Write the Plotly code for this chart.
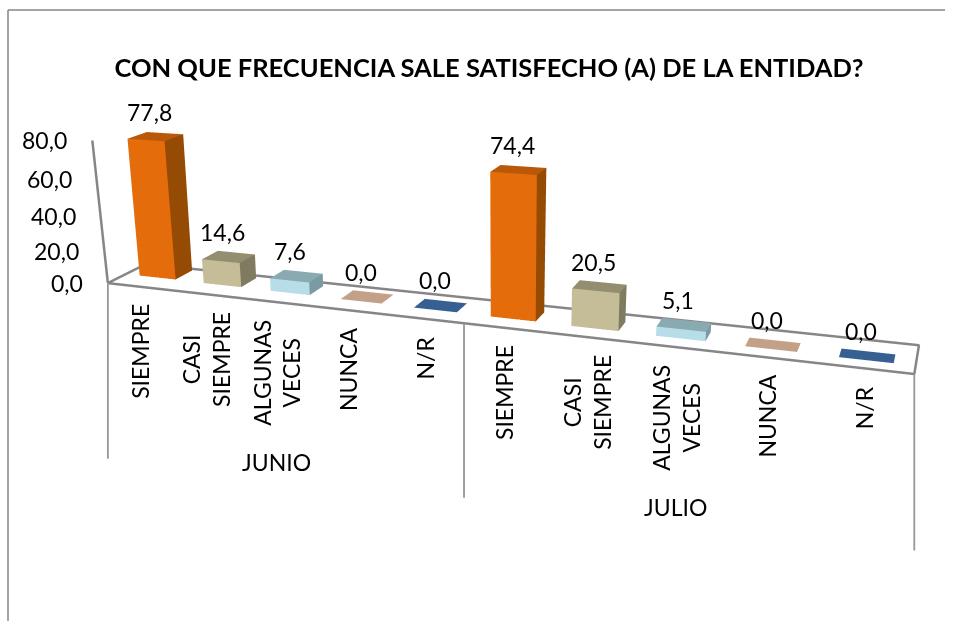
import plotly.graph_objects as go

categories = ["SIEMPRE", "CASI<br>SIEMPRE", "ALGUNAS<br>VECES", "NUNCA", "N/R"]
months = ["JUNIO", "JULIO"]
junio = [77.8, 14.6, 7.6, 0.0, 0.0]
julio = [74.4, 20.5, 5.1, 0.0, 0.0]
ticks = [0, 20, 40, 60, 80]
front = ["#E46C0A", "#C4BD97", "#B7DEE8", "#C3A188", "#376092"]
side = ["#954B04", "#7F7B60", "#7A9BA3", "#C3A188", "#376092"]
top = ["#B85808", "#938E6F", "#8AAAB2", "#C3A188", "#376092"]
values = junio + julio

ZMIN, ZMAX = 0.0, 85.0
X0, X1 = 0.22, 0.78            # bar extent inside its category slot
ASPECT_Y, ASPECT_Z = 0.0595, 0.2025
SKEW_D, SKEW_Z, SKEW_XZ = 0.1801, 0.0411, -0.0808   # oblique look of the original 3-D chart


def dF(i):
    return 0.46 - 0.02 * i


def dB(i):
    return 0.92 - 0.037 * i


def sx(x, d, z):
    return x + SKEW_D * d + SKEW_Z * z / 80 + SKEW_XZ * (x - 5) * z / 80


def label(v):
    return ("%.1f" % v).replace(".", ",")


fig = go.Figure()
for i, v in enumerate(values):
    k = i % 5
    xa, xb = i + X0, i + X1
    ds = [dF(i), dF(i), dB(i), dB(i)] * 2
    xs = [xa, xb, xb, xa] * 2
    vz = [0] * 4 + [v] * 4
    vx = [sx(a, b, c) for a, b, c in zip(xs, ds, vz)]
    I = [0, 0, 1, 1, 4, 4, 3, 3]
    J = [1, 5, 2, 6, 5, 6, 0, 4]
    K = [5, 4, 6, 5, 6, 7, 4, 7]
    fc = [front[k]] * 2 + [side[k]] * 2 + [top[k]] * 2 + [front[k]] * 2
    fig.add_trace(go.Mesh3d(x=vx, y=ds, z=vz, i=I, j=J, k=K, facecolor=fc, flatshading=True,
                            lighting=dict(ambient=1, diffuse=0, specular=0, fresnel=0, roughness=1),
                            hoverinfo="skip"))


def line(xs, ds, zs, w=5):
    fig.add_trace(go.Scatter3d(x=[sx(a, b, c) for a, b, c in zip(xs, ds, zs)], y=ds, z=zs, mode="lines",
                               line=dict(color="#868686", width=w), hoverinfo="skip"))


line([0, 10, 10, 0, 0], [0, 0, 1, 1, 0], [0, 0, 0, 0, 0])
line([0, 0], [0, 0], [0, 80])

ann = []
FONT = dict(family="Lato", size=23, color="#000")


def A(x, d, z, t, **kw):
    o = dict(x=sx(x, d, z), y=d, z=z, text=t, showarrow=False, font=FONT)
    o.update(kw)
    ann.append(o)


for i, v in enumerate(values):
    A(i + .5, (dF(i) + dB(i)) / 2, v, label(v), yshift=25, xshift=-6)
for tv in ticks:
    A(0, 0, tv, label(tv), xanchor="right", xshift=-23)
for i in range(10):
    A(i + .5, 0, 0, categories[i % 5], textangle=-90, yanchor="top", yshift=-15.5, xshift=0)
for xp, ln in zip([0, 5, 10], [191, 190, 192]):
    A(xp, 0, 0, " ", showarrow=True, ax=0, ay=ln, arrowhead=0, arrowwidth=1.8, arrowcolor="#969696",
      standoff=0, startstandoff=0)
for m, t in enumerate(months):
    A(2.5 + 5 * m, 0, 0, t, yanchor="middle", yshift=-160, xshift=0)

grid = dict(visible=False, showspikes=False)
fig.update_layout(
    width=956, height=621, margin=dict(l=0, r=0, t=0, b=0), paper_bgcolor="white", showlegend=False,
    title=dict(text="<b>CON QUE FRECUENCIA SALE SATISFECHO (A) DE LA ENTIDAD?</b>", x=489 / 956, xanchor="center",
               y=1 - 68 / 621, yanchor="middle", font=dict(family="Lato", size=25.5, color="#000")),
    scene=dict(
        domain=dict(x=[0, 1], y=[0, 1]), aspectmode="manual",
        aspectratio=dict(x=1.4, y=ASPECT_Y, z=ASPECT_Z * (ZMAX - ZMIN) / 80),
        xaxis=dict(range=[-2, 12], **grid), yaxis=dict(range=[0, 1], **grid), zaxis=dict(range=[ZMIN, ZMAX], **grid),
        camera=dict(eye=dict(x=0.2089, y=-0.7683, z=0.385),
                    center=dict(x=0.1025, y=-0.3567, z=0.1219),
                    up=dict(x=-0.1054, y=0.5161, z=0.85)),
        annotations=ann),
    shapes=[
        dict(type="line", xref="paper", yref="paper", x0=8 / 956, x1=945 / 956, y0=1 - 10 / 621, y1=1 - 10 / 621,
             line=dict(color="#868686", width=1.5)),
        dict(type="line", xref="paper", yref="paper", x0=8 / 956, x1=8 / 956, y0=1 - 10 / 621, y1=0,
             line=dict(color="#868686", width=1.5))])
fig.write_html("out.html", post_script="document.body.style.margin='0';", config=dict(displayModeBar=False))
